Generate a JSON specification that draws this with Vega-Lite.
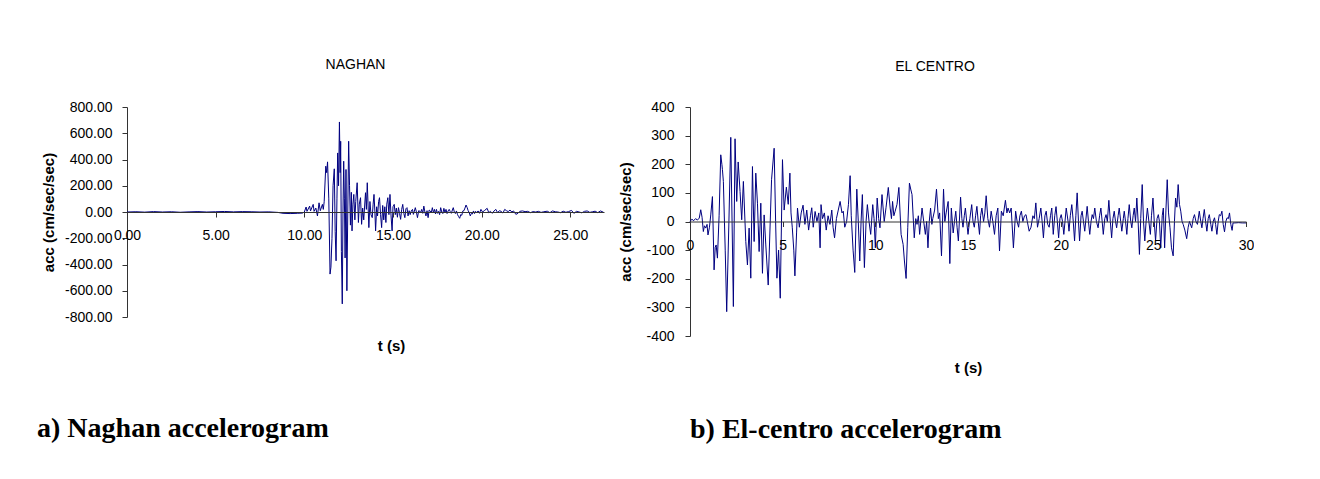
{
  "$schema": "https://vega.github.io/schema/vega-lite/v6.json",
  "padding": {"left": 37, "top": 58, "right": 0, "bottom": 0},
  "background": "white",
  "config": {
    "locale": {"number": {"decimal": ".", "thousands": ",", "grouping": [3], "currency": ["$", ""], "minus": "-"}},
    "view": {"stroke": null},
    "font": "Liberation Sans",
    "axis": {"grid": false, "labelFont": "Liberation Sans", "labelFontSize": 14, "labelColor": "#000", "titleFont": "Liberation Sans", "titleFontSize": 15, "titleFontWeight": "bold", "titleColor": "#000", "domainColor": "#333", "tickColor": "#333", "tickSize": 5, "labelFlush": false, "labelOverlap": false, "labelBound": false}
  },
  "spacing": 12,
  "hconcat": [
    {
      "title": {"text": "a) Naghan accelerogram", "orient": "bottom", "anchor": "start", "font": "Liberation Serif", "fontSize": 28, "fontWeight": "bold", "color": "#000", "offset": 62, "dx": -4},
      "vconcat": [
        {
          "width": 477,
          "height": 210,
          "title": {"text": "NAGHAN", "font": "Liberation Sans", "fontSize": 14, "fontWeight": "normal", "color": "#000", "frame": "group", "dx": -10, "offset": 28},
          "data": {"values": [
            {"t":0,"acc":0},{"t":0.5,"acc":2},{"t":1,"acc":-1},{"t":1.5,"acc":3},{"t":2,"acc":0},{"t":2.5,"acc":2},{"t":3,"acc":-2},{"t":3.5,"acc":1},{"t":4,"acc":3},{"t":4.5,"acc":0},{"t":5,"acc":2},{"t":5.5,"acc":4},{"t":6,"acc":1},{"t":6.5,"acc":3},{"t":7,"acc":2},{"t":7.5,"acc":0},{"t":8,"acc":1},{"t":8.5,"acc":-3},{"t":8.8,"acc":-10},{"t":9.2,"acc":-12},{"t":9.6,"acc":-10},{"t":9.9,"acc":-8},
            {"t":10,"acc":0},{"t":10.1,"acc":38},{"t":10.15,"acc":5},{"t":10.3,"acc":45},{"t":10.35,"acc":8},{"t":10.5,"acc":58},{"t":10.55,"acc":5},{"t":10.65,"acc":30},{"t":10.74,"acc":-30},{"t":10.83,"acc":70},{"t":10.9,"acc":10},{"t":11.02,"acc":58},{"t":11.07,"acc":20},{"t":11.12,"acc":78},
            {"t":11.21,"acc":349},{"t":11.26,"acc":300},{"t":11.31,"acc":382},{"t":11.38,"acc":100},{"t":11.45,"acc":-473},{"t":11.5,"acc":-420},{"t":11.56,"acc":-200},{"t":11.62,"acc":200},{"t":11.69,"acc":329},{"t":11.74,"acc":-150},{"t":11.79,"acc":-372},{"t":11.84,"acc":100},{"t":11.88,"acc":450},{"t":11.93,"acc":200},{"t":11.98,"acc":686},{"t":12.02,"acc":300},{"t":12.05,"acc":539},{"t":12.09,"acc":-300},{"t":12.14,"acc":-700},{"t":12.18,"acc":0},{"t":12.22,"acc":387},{"t":12.26,"acc":100},{"t":12.3,"acc":-350},{"t":12.35,"acc":324},{"t":12.4,"acc":-600},{"t":12.45,"acc":0},{"t":12.5,"acc":539},{"t":12.55,"acc":200},{"t":12.6,"acc":-100},{"t":12.65,"acc":150},{"t":12.69,"acc":-144},{"t":12.74,"acc":60},{"t":12.79,"acc":134},{"t":12.85,"acc":-60},{"t":12.9,"acc":80},{"t":12.98,"acc":223},{"t":13.05,"acc":-80},{"t":13.1,"acc":60},{"t":13.17,"acc":109},{"t":13.23,"acc":-94},{"t":13.29,"acc":30},{"t":13.35,"acc":-60},{"t":13.45,"acc":147},{"t":13.5,"acc":20},{"t":13.55,"acc":223},{"t":13.64,"acc":-119},{"t":13.7,"acc":80},{"t":13.76,"acc":-20},{"t":13.83,"acc":-43},{"t":13.88,"acc":60},{"t":13.93,"acc":134},{"t":13.98,"acc":0},{"t":14.02,"acc":-144},{"t":14.08,"acc":40},{"t":14.13,"acc":-30},{"t":14.19,"acc":80},{"t":14.24,"acc":109},{"t":14.3,"acc":-20},{"t":14.36,"acc":-119},{"t":14.42,"acc":50},{"t":14.48,"acc":-60},{"t":14.54,"acc":40},{"t":14.6,"acc":-80},{"t":14.65,"acc":60},{"t":14.71,"acc":109},{"t":14.77,"acc":-20},{"t":14.83,"acc":134},{"t":14.89,"acc":-30},{"t":14.95,"acc":-144},{"t":15,"acc":40},{"t":15.07,"acc":58},{"t":15.13,"acc":-20},{"t":15.19,"acc":30},{"t":15.25,"acc":-40},{"t":15.31,"acc":33},{"t":15.37,"acc":-10},{"t":15.43,"acc":-56},{"t":15.49,"acc":20},{"t":15.55,"acc":58},{"t":15.61,"acc":-10},{"t":15.67,"acc":-43},{"t":15.73,"acc":25},{"t":15.79,"acc":33},{"t":15.85,"acc":-30},{"t":15.91,"acc":10},{"t":15.97,"acc":-20},{"t":16.03,"acc":8},{"t":16.1,"acc":20},{"t":16.15,"acc":-18},{"t":16.26,"acc":33},{"t":16.32,"acc":0},{"t":16.38,"acc":-43},{"t":16.45,"acc":10},{"t":16.5,"acc":8},{"t":16.56,"acc":-5},{"t":16.62,"acc":20},{"t":16.68,"acc":-10},{"t":16.74,"acc":45},{"t":16.8,"acc":0},{"t":16.86,"acc":-30},{"t":16.92,"acc":10},{"t":16.98,"acc":-43},{"t":17.04,"acc":15},{"t":17.1,"acc":8},{"t":17.16,"acc":-5},{"t":17.22,"acc":33},{"t":17.28,"acc":-5},{"t":17.34,"acc":20},{"t":17.4,"acc":-15},{"t":17.45,"acc":20},{"t":17.51,"acc":-10},{"t":17.57,"acc":5},{"t":17.63,"acc":-20},{"t":17.69,"acc":33},{"t":17.75,"acc":0},{"t":17.81,"acc":-12},{"t":17.87,"acc":28},{"t":17.93,"acc":-5},{"t":17.99,"acc":20},{"t":18.05,"acc":-12},{"t":18.11,"acc":8},{"t":18.17,"acc":20},{"t":18.23,"acc":3},{"t":18.29,"acc":-10},{"t":18.35,"acc":15},{"t":18.4,"acc":33},{"t":18.46,"acc":0},{"t":18.52,"acc":-12},{"t":18.58,"acc":8},{"t":18.64,"acc":-20},{"t":18.7,"acc":-35},{"t":18.76,"acc":-48},{"t":18.82,"acc":-20},{"t":18.88,"acc":-25},{"t":18.94,"acc":8},{"t":19,"acc":10},{"t":19.06,"acc":30},{"t":19.12,"acc":53},{"t":19.18,"acc":35},{"t":19.24,"acc":10},{"t":19.3,"acc":-5},{"t":19.36,"acc":-30},{"t":19.42,"acc":-10},{"t":19.48,"acc":-15},{"t":19.54,"acc":8},{"t":19.6,"acc":-12},{"t":19.66,"acc":5},{"t":19.72,"acc":-5},{"t":19.8,"acc":8},{"t":19.88,"acc":-10},{"t":19.96,"acc":20},{"t":20.05,"acc":0},{"t":20.15,"acc":10},{"t":20.31,"acc":28},{"t":20.4,"acc":-5},{"t":20.5,"acc":5},{"t":20.6,"acc":-10},{"t":20.7,"acc":8},{"t":20.8,"acc":20},{"t":20.9,"acc":-5},{"t":21,"acc":10},{"t":21.1,"acc":5},{"t":21.2,"acc":-8},{"t":21.3,"acc":20},{"t":21.4,"acc":10},{"t":21.5,"acc":3},{"t":21.6,"acc":15},{"t":21.7,"acc":0},{"t":21.8,"acc":8},{"t":21.93,"acc":-18},{"t":22.05,"acc":-10},{"t":22.15,"acc":5},{"t":22.3,"acc":8},{"t":22.45,"acc":3},{"t":22.6,"acc":5},{"t":22.75,"acc":-5},{"t":22.9,"acc":3},{"t":23.05,"acc":0},{"t":23.2,"acc":5},{"t":23.35,"acc":-3},{"t":23.5,"acc":2},{"t":23.7,"acc":6},{"t":23.85,"acc":-5},{"t":24,"acc":8},{"t":24.15,"acc":2},{"t":24.3,"acc":0},{"t":24.45,"acc":-5},{"t":24.6,"acc":6},{"t":24.75,"acc":-2},{"t":24.9,"acc":3},{"t":25.07,"acc":12},{"t":25.2,"acc":-10},{"t":25.35,"acc":5},{"t":25.5,"acc":0},{"t":25.65,"acc":-6},{"t":25.8,"acc":5},{"t":25.95,"acc":8},{"t":26.1,"acc":-3},{"t":26.25,"acc":2},{"t":26.4,"acc":6},{"t":26.55,"acc":-5},{"t":26.7,"acc":8},{"t":26.87,"acc":-2}
          ]},
          "mark": {"type": "line", "color": "#000080", "strokeWidth": 1},
          "encoding": {
            "x": {"field": "t", "type": "quantitative", "scale": {"domain": [0, 26.9], "nice": false, "zero": false},
                  "axis": {"values": [0, 5, 10, 15, 20, 25], "format": ".2f", "offset": -105, "labelPadding": 11, "title": "t (s)", "titleBaseline": "middle", "titleY": 133, "titleX": 264, "zindex": 1}},
            "y": {"field": "acc", "type": "quantitative", "scale": {"domain": [-800, 800], "nice": false},
                  "axis": {"values": [-800, -600, -400, -200, 0, 200, 400, 600, 800], "format": ".2f", "labelPadding": 10, "title": "acc (cm/sec/sec)", "titlePadding": 8.5}}
          }
        }
      ]
    },
    {
      "title": {"text": "b) El-centro accelerogram", "orient": "bottom", "anchor": "start", "font": "Liberation Serif", "fontSize": 28, "fontWeight": "bold", "color": "#000", "offset": 40, "dx": 71},
      "vconcat": [
        {
          "width": 556,
          "height": 229,
          "title": {"text": "EL CENTRO", "font": "Liberation Sans", "fontSize": 14, "fontWeight": "normal", "color": "#000", "frame": "group", "dx": -33, "offset": 26},
          "data": {"values": [
            {"t":0,"acc":0},{"t":0.1,"acc":8},{"t":0.2,"acc":3},{"t":0.3,"acc":10},{"t":0.4,"acc":5},{"t":0.5,"acc":12},{"t":0.58,"acc":41},{"t":0.65,"acc":15},{"t":0.72,"acc":-35},{"t":0.78,"acc":-15},{"t":0.85,"acc":-23},{"t":0.92,"acc":-10},{"t":0.97,"acc":-47},{"t":1.05,"acc":-20},{"t":1.12,"acc":23},{"t":1.21,"acc":87},{"t":1.3,"acc":-169},{"t":1.36,"acc":-90},{"t":1.41,"acc":-82},{"t":1.48,"acc":-128},{"t":1.57,"acc":20},{"t":1.66,"acc":233},{"t":1.72,"acc":200},{"t":1.75,"acc":181},{"t":1.8,"acc":140},{"t":1.9,"acc":-100},{"t":1.98,"acc":-315},{"t":2.1,"acc":0},{"t":2.2,"acc":294},{"t":2.27,"acc":0},{"t":2.34,"acc":-297},{"t":2.43,"acc":289},{"t":2.52,"acc":70},{"t":2.6,"acc":208},{"t":2.7,"acc":105},{"t":2.79,"acc":6},{"t":2.88,"acc":140},{"t":3.01,"acc":-70},{"t":3.1,"acc":-152},{"t":3.19,"acc":-23},{"t":3.28,"acc":-198},{"t":3.37,"acc":192},{"t":3.46,"acc":-70},{"t":3.55,"acc":169},{"t":3.64,"acc":64},{"t":3.73,"acc":-105},{"t":3.82,"acc":64},{"t":3.91,"acc":-181},{"t":4,"acc":23},{"t":4.09,"acc":-82},{"t":4.22,"acc":-222},{"t":4.4,"acc":146},{"t":4.54,"acc":256},{"t":4.62,"acc":0},{"t":4.69,"acc":-198},{"t":4.78,"acc":-100},{"t":4.87,"acc":-268},{"t":4.99,"acc":216},{"t":5.08,"acc":40},{"t":5.2,"acc":120},{"t":5.3,"acc":60},{"t":5.39,"acc":169},{"t":5.45,"acc":30},{"t":5.52,"acc":-22},{"t":5.6,"acc":-100},{"t":5.66,"acc":-190},{"t":5.75,"acc":-40},{"t":5.8,"acc":47},
            {"t":5.9,"acc":-20},{"t":6,"acc":30},{"t":6.1,"acc":57},{"t":6.2,"acc":-10},{"t":6.3,"acc":40},{"t":6.4,"acc":-30},{"t":6.5,"acc":20},{"t":6.57,"acc":48},{"t":6.65,"acc":-20},{"t":6.75,"acc":35},{"t":6.85,"acc":0},{"t":6.95,"acc":30},{"t":7.02,"acc":-92},{"t":7.07,"acc":59},{"t":7.15,"acc":10},{"t":7.25,"acc":30},{"t":7.35,"acc":-30},{"t":7.45,"acc":20},{"t":7.55,"acc":-10},{"t":7.65,"acc":40},{"t":7.72,"acc":-20},{"t":7.8,"acc":-57},{"t":7.9,"acc":10},{"t":8,"acc":40},{"t":8.1,"acc":70},{"t":8.2,"acc":30},{"t":8.27,"acc":36},{"t":8.35,"acc":-20},{"t":8.45,"acc":0},{"t":8.55,"acc":60},{"t":8.64,"acc":160},{"t":8.7,"acc":20},{"t":8.8,"acc":-100},{"t":8.89,"acc":-178},{"t":9,"acc":113},{"t":9.08,"acc":0},{"t":9.16,"acc":-138},{"t":9.23,"acc":0},{"t":9.3,"acc":94},{"t":9.41,"acc":-161},{"t":9.5,"acc":0},{"t":9.57,"acc":59},{"t":9.66,"acc":0},{"t":9.75,"acc":-45},{"t":9.86,"acc":59},{"t":9.93,"acc":10},{"t":10,"acc":-92},{"t":10.1,"acc":82},{"t":10.18,"acc":10},{"t":10.25,"acc":-22},{"t":10.36,"acc":94},{"t":10.48,"acc":0},{"t":10.58,"acc":50},{"t":10.7,"acc":119},{"t":10.8,"acc":47},{"t":10.87,"acc":10},{"t":10.93,"acc":70},{"t":11,"acc":20},{"t":11.07,"acc":36},{"t":11.17,"acc":60},{"t":11.27,"acc":119},{"t":11.39,"acc":-45},{"t":11.5,"acc":-80},{"t":11.57,"acc":-138},{"t":11.66,"acc":-199},{"t":11.75,"acc":-20},{"t":11.84,"acc":134},{"t":11.92,"acc":110},{"t":11.98,"acc":94},{"t":12.1,"acc":-57},{"t":12.18,"acc":10},{"t":12.25,"acc":-10},{"t":12.32,"acc":20},{"t":12.39,"acc":-45},{"t":12.45,"acc":0},{"t":12.52,"acc":47},{"t":12.61,"acc":0},{"t":12.7,"acc":-45},{"t":12.77,"acc":0},{"t":12.84,"acc":-92},{"t":12.91,"acc":0},{"t":12.98,"acc":47},{"t":13.05,"acc":-10},{"t":13.1,"acc":10},{"t":13.2,"acc":40},{"t":13.3,"acc":113},{"t":13.4,"acc":10},{"t":13.47,"acc":30},{"t":13.57,"acc":-120},{"t":13.68,"acc":113},{"t":13.75,"acc":0},{"t":13.82,"acc":30},{"t":13.93,"acc":70},{"t":14.02,"acc":-147},{"t":14.1,"acc":47},{"t":14.2,"acc":-40},{"t":14.27,"acc":0},{"t":14.34,"acc":36},{"t":14.41,"acc":-20},{"t":14.48,"acc":-68},{"t":14.6,"acc":85},{"t":14.67,"acc":10},{"t":14.73,"acc":-20},{"t":14.8,"acc":20},{"t":14.86,"acc":47},{"t":14.93,"acc":0},{"t":15,"acc":-45},{"t":15.1,"acc":10},{"t":15.2,"acc":59},{"t":15.27,"acc":0},{"t":15.34,"acc":-20},{"t":15.41,"acc":20},{"t":15.48,"acc":53},{"t":15.55,"acc":0},{"t":15.62,"acc":-45},{"t":15.68,"acc":20},{"t":15.75,"acc":47},{"t":15.84,"acc":0},{"t":15.91,"acc":30},{"t":15.98,"acc":90},{"t":16.07,"acc":10},{"t":16.16,"acc":-20},{"t":16.25,"acc":36},{"t":16.34,"acc":0},{"t":16.43,"acc":-45},{"t":16.52,"acc":20},{"t":16.61,"acc":47},{"t":16.7,"acc":-103},{"t":16.8,"acc":36},{"t":16.9,"acc":20},{"t":17.02,"acc":74},{"t":17.1,"acc":30},{"t":17.16,"acc":47},{"t":17.25,"acc":30},{"t":17.33,"acc":47},{"t":17.45,"acc":-92},{"t":17.57,"acc":36},{"t":17.65,"acc":0},{"t":17.73,"acc":-20},{"t":17.8,"acc":20},{"t":17.88,"acc":36},{"t":17.96,"acc":0},{"t":18.05,"acc":20},{"t":18.13,"acc":24},{"t":18.2,"acc":0},{"t":18.3,"acc":-34},{"t":18.4,"acc":-20},{"t":18.5,"acc":20},{"t":18.58,"acc":10},{"t":18.66,"acc":65},{"t":18.75,"acc":-20},{"t":18.84,"acc":10},{"t":18.93,"acc":47},{"t":19,"acc":0},{"t":19.07,"acc":-57},{"t":19.15,"acc":20},{"t":19.22,"acc":36},{"t":19.3,"acc":-10},{"t":19.38,"acc":-20},{"t":19.45,"acc":20},{"t":19.52,"acc":47},{"t":19.6,"acc":-45},{"t":19.68,"acc":20},{"t":19.75,"acc":52},{"t":19.82,"acc":0},{"t":19.89,"acc":-57},{"t":19.96,"acc":10},{"t":20.03,"acc":24},{"t":20.1,"acc":0},{"t":20.17,"acc":-45},{"t":20.3,"acc":47},{"t":20.4,"acc":0},{"t":20.45,"acc":-34},{"t":20.52,"acc":20},{"t":20.6,"acc":59},{"t":20.68,"acc":0},{"t":20.75,"acc":-68},{"t":20.82,"acc":20},{"t":20.89,"acc":100},{"t":20.96,"acc":0},{"t":21.02,"acc":-68},{"t":21.1,"acc":20},{"t":21.16,"acc":36},{"t":21.23,"acc":0},{"t":21.3,"acc":-34},{"t":21.43,"acc":53},{"t":21.5,"acc":0},{"t":21.57,"acc":-45},{"t":21.64,"acc":0},{"t":21.7,"acc":24},{"t":21.77,"acc":10},{"t":21.84,"acc":47},{"t":21.93,"acc":0},{"t":22.02,"acc":-22},{"t":22.1,"acc":20},{"t":22.17,"acc":47},{"t":22.24,"acc":0},{"t":22.3,"acc":-45},{"t":22.38,"acc":10},{"t":22.45,"acc":24},{"t":22.52,"acc":0},{"t":22.6,"acc":74},{"t":22.68,"acc":0},{"t":22.75,"acc":-57},{"t":22.82,"acc":10},{"t":22.89,"acc":36},{"t":22.96,"acc":0},{"t":23.02,"acc":-22},{"t":23.1,"acc":20},{"t":23.16,"acc":47},{"t":23.24,"acc":0},{"t":23.3,"acc":-34},{"t":23.38,"acc":10},{"t":23.43,"acc":36},{"t":23.5,"acc":0},{"t":23.57,"acc":-45},{"t":23.63,"acc":10},{"t":23.7,"acc":59},{"t":23.78,"acc":0},{"t":23.84,"acc":-22},{"t":23.91,"acc":20},{"t":23.97,"acc":47},{"t":24.04,"acc":0},{"t":24.11,"acc":82},{"t":24.18,"acc":0},{"t":24.25,"acc":-115},{"t":24.32,"acc":10},{"t":24.4,"acc":129},{"t":24.47,"acc":0},{"t":24.54,"acc":-68},{"t":24.61,"acc":0},{"t":24.68,"acc":47},{"t":24.76,"acc":0},{"t":24.84,"acc":-45},{"t":24.9,"acc":20},{"t":24.98,"acc":82},{"t":25.05,"acc":0},{"t":25.12,"acc":-68},{"t":25.2,"acc":10},{"t":25.27,"acc":24},{"t":25.33,"acc":0},{"t":25.4,"acc":-92},{"t":25.48,"acc":20},{"t":25.54,"acc":47},{"t":25.61,"acc":-92},{"t":25.68,"acc":40},{"t":25.75,"acc":146},{"t":25.82,"acc":30},{"t":25.9,"acc":-22},{"t":25.98,"acc":-92},{"t":26.07,"acc":-120},{"t":26.14,"acc":0},{"t":26.2,"acc":82},{"t":26.27,"acc":50},{"t":26.34,"acc":129},{"t":26.41,"acc":60},{"t":26.48,"acc":36},{"t":26.55,"acc":0},{"t":26.61,"acc":-10},{"t":26.7,"acc":-30},{"t":26.8,"acc":-60},{"t":26.88,"acc":-20},{"t":26.95,"acc":0},{"t":27.07,"acc":-22},{"t":27.15,"acc":10},{"t":27.22,"acc":24},{"t":27.3,"acc":0},{"t":27.38,"acc":-10},{"t":27.48,"acc":36},{"t":27.56,"acc":0},{"t":27.62,"acc":-22},{"t":27.68,"acc":10},{"t":27.75,"acc":42},{"t":27.82,"acc":0},{"t":27.89,"acc":-34},{"t":27.96,"acc":10},{"t":28.02,"acc":24},{"t":28.1,"acc":-10},{"t":28.16,"acc":-34},{"t":28.23,"acc":0},{"t":28.3,"acc":13},{"t":28.36,"acc":-10},{"t":28.43,"acc":-45},{"t":28.5,"acc":0},{"t":28.56,"acc":24},{"t":28.63,"acc":20},{"t":28.7,"acc":36},{"t":28.77,"acc":-10},{"t":28.84,"acc":-36},{"t":28.91,"acc":0},{"t":28.98,"acc":13},{"t":29.05,"acc":10},{"t":29.11,"acc":30},{"t":29.18,"acc":-10},{"t":29.25,"acc":-31},{"t":29.3,"acc":-5},{"t":29.4,"acc":-5},{"t":29.6,"acc":-4},{"t":29.8,"acc":-5},{"t":30,"acc":-5}
          ]},
          "mark": {"type": "line", "color": "#000080", "strokeWidth": 1},
          "encoding": {
            "x": {"field": "t", "type": "quantitative", "scale": {"domain": [0, 30], "nice": false, "zero": false},
                  "axis": {"values": [0, 5, 10, 15, 20, 25, 30], "format": "d", "offset": -114.5, "labelPadding": 12, "title": "t (s)", "titleBaseline": "middle", "titleY": 146, "zindex": 1}},
            "y": {"field": "acc", "type": "quantitative", "scale": {"domain": [-400, 400], "nice": false},
                  "axis": {"values": [-400, -300, -200, -100, 0, 100, 200, 300, 400], "format": "d", "labelPadding": 11, "title": "acc (cm/sec/sec)", "titlePadding": 12}}
          }
        }
      ]
    }
  ]
}
